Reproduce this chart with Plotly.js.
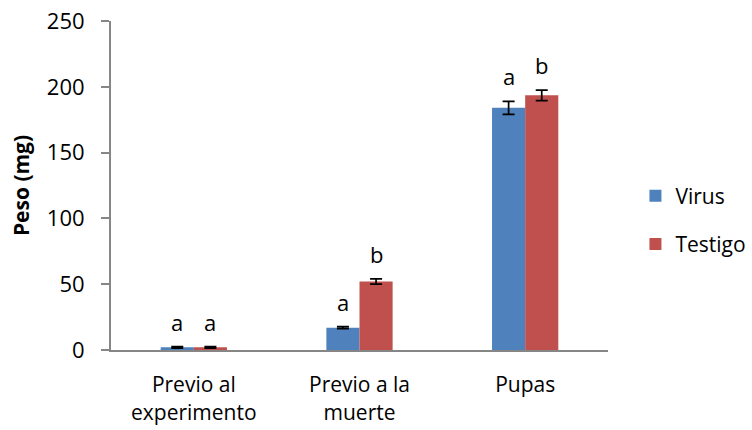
<!DOCTYPE html>
<html><head><meta charset="utf-8">
<script src="https://cdn.plot.ly/plotly-3.0.1.min.js"></script>
<style>body{margin:0;background:#fff}#c{width:752px;height:430px}</style>
</head><body><div id="c"></div>
<script>
const categories = ["Previo al<br>experimento", "Previo a la<br>muerte", "Pupas"];
const virus = [2, 17, 184];
const virusErr = [0.5, 0.8, 5];
const testigo = [2, 52, 193.5];
const testigoErr = [0.5, 2, 4];
const virusLetters = ["a", "a", "a"];
const testigoLetters = ["a", "b", "b"];

const font = "Open Sans, Noto Sans, sans-serif";
const traces = [
  {type:"bar", name:"Virus", legendgroup:"v", x:categories, y:virus, marker:{color:"#4f81bd"},
   error_y:{type:"data", array:virusErr, visible:true, color:"#000", thickness:1.7, width:6}},
  {type:"bar", name:"Testigo", legendgroup:"t", x:categories, y:testigo, marker:{color:"#c0504d"},
   error_y:{type:"data", array:testigoErr, visible:true, color:"#000", thickness:1.7, width:6}}
];
const annotations = [];
categories.forEach((c,i)=>{
  annotations.push({x:c, y:virus[i]+virusErr[i], text:virusLetters[i], showarrow:false, xshift:-16.5, yanchor:"bottom", yshift:8, font:{size:22, color:"#000", family:font}});
  annotations.push({x:c, y:testigo[i]+testigoErr[i], text:testigoLetters[i], showarrow:false, xshift:16.5, yanchor:"bottom", yshift:8, font:{size:22, color:"#000", family:font}});
});
const layout = {
  width:752, height:430,
  margin:{l:111, r:144, t:21, b:80},
  paper_bgcolor:"#fff", plot_bgcolor:"#fff",
  font:{family:font, size:22, color:"#000"},
  barmode:"group", bargap:0.6, bargroupgap:0,
  xaxis:{showline:true, linecolor:"#868686", linewidth:2, ticks:"", showgrid:false, zeroline:false,
    tickfont:{size:21}, ticklabelstandoff:15},
  yaxis:{range:[0,250], dtick:50, showline:true, linecolor:"#868686", linewidth:2, ticks:"outside", ticklen:8, tickcolor:"#868686", tickwidth:2,
    showgrid:false, zeroline:false, tickfont:{size:22}, ticklabelstandoff:12,
    title:{text:"<b>Peso (mg)</b>", font:{size:21}, standoff:11}},
  legend:{xref:"container", yref:"container", x:0.845, y:0.488, xanchor:"left", yanchor:"middle", font:{size:21}, tracegroupgap:18, itemwidth:30},
  annotations:annotations,
  showlegend:true
};
Plotly.newPlot("c", traces, layout, {displayModeBar:false});
</script></body></html>
